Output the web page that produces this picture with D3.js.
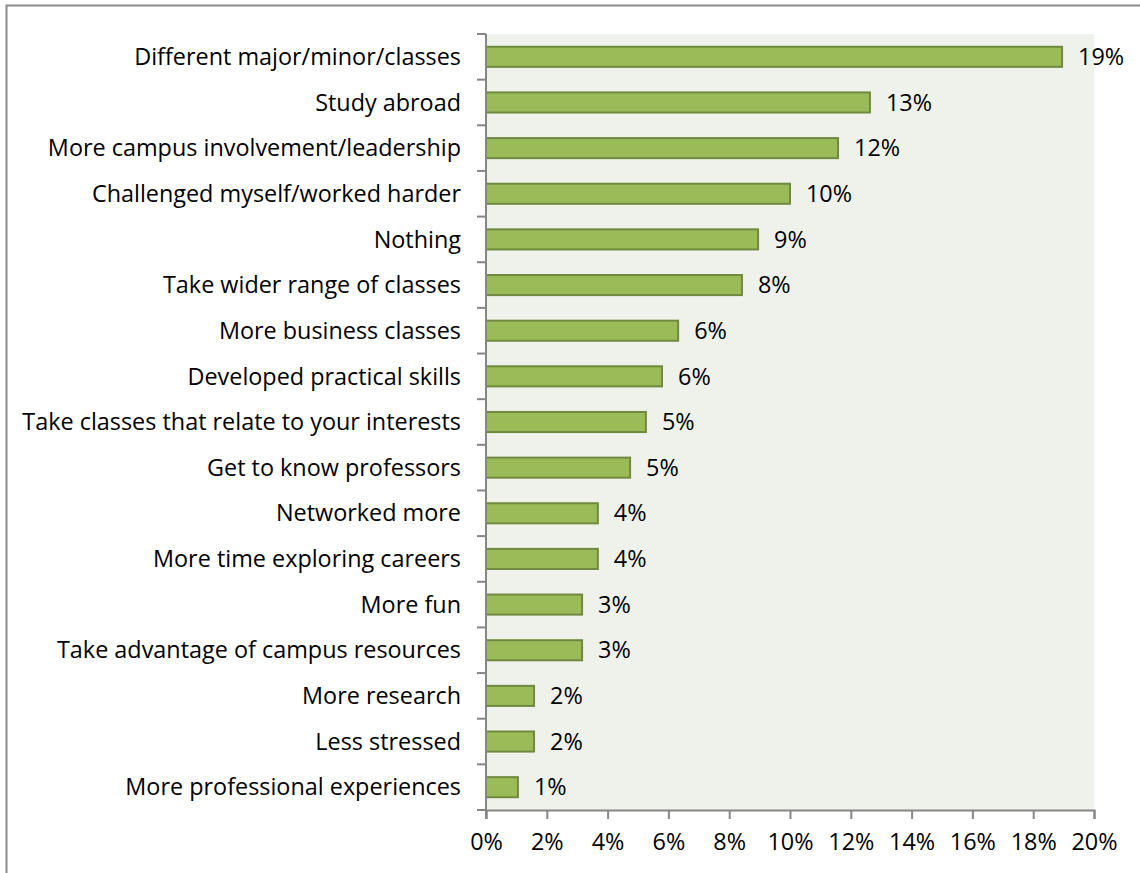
<!DOCTYPE html>
<html>
<head>
<meta charset="utf-8" />
<script src="https://d3js.org/d3.v7.min.js"></script>
<style>
  body { margin: 0; background: #fff; }
  text { font-family: "Open Sans", "Noto Sans", sans-serif; fill: #000; }
  .domain, .tick line { stroke: #868686; stroke-width: 2px; }
</style>
</head>
<body>
<script>
// categories, top to bottom
var categories = [
  "Different major/minor/classes",
  "Study abroad",
  "More campus involvement/leadership",
  "Challenged myself/worked harder",
  "Nothing",
  "Take wider range of classes",
  "More business classes",
  "Developed practical skills",
  "Take classes that relate to your interests",
  "Get to know professors",
  "Networked more",
  "More time exploring careers",
  "More fun",
  "Take advantage of campus resources",
  "More research",
  "Less stressed",
  "More professional experiences"
];
// shares (fraction)
var values = [0.1895, 0.1263, 0.1158, 0.1000, 0.0895, 0.0842, 0.0632, 0.0579,
              0.0526, 0.0474, 0.0368, 0.0368, 0.0316, 0.0316, 0.0158, 0.0158, 0.0105];
// labels as printed next to each bar
var valueLabels = ["19%", "13%", "12%", "10%", "9%", "8%", "6%", "6%",
                   "5%", "5%", "4%", "4%", "3%", "3%", "2%", "2%", "1%"];
var xTicks = [0, 0.02, 0.04, 0.06, 0.08, 0.10, 0.12, 0.14, 0.16, 0.18, 0.20];

var W = 1140, H = 873;
var plot = {left: 486, top: 34, right: 1094, bottom: 810};

var svg = d3.select("body").append("svg")
    .attr("width", W)
    .attr("height", H);

// chart border (only top and left visible in the crop)
svg.append("path")
    .attr("d", "M6.5," + H + "V5.5H" + W)
    .attr("fill", "none")
    .attr("stroke", "#8c8c8c")
    .attr("stroke-width", 2);

var x = d3.scaleLinear()
    .domain([0, 0.20])
    .range([plot.left, plot.right]);

var y = d3.scaleBand()
    .domain(categories)
    .range([plot.top, plot.bottom])
    .paddingInner(0.56)
    .paddingOuter(0.28);

// plot area background
svg.append("rect")
    .attr("x", plot.left)
    .attr("y", plot.top)
    .attr("width", plot.right - plot.left)
    .attr("height", plot.bottom - plot.top)
    .attr("fill", "#eff2ea");

// bars
svg.selectAll(".bar")
    .data(values)
  .enter().append("rect")
    .attr("class", "bar")
    .attr("x", x(0))
    .attr("y", function(d, i) { return y(categories[i]); })
    .attr("width", function(d) { return x(d) - x(0); })
    .attr("height", y.bandwidth())
    .attr("fill", "#9bbb59")
    .attr("stroke", "#71893f")
    .attr("stroke-width", 2);

// value labels
svg.selectAll(".val")
    .data(values)
  .enter().append("text")
    .attr("class", "val")
    .attr("x", function(d) { return x(d) + 16; })
    .attr("y", function(d, i) { return y(categories[i]) + y.bandwidth() / 2; })
    .attr("dy", "0.35em")
    .style("font-size", "20px")
    .text(function(d, i) { return valueLabels[i]; });

// x axis
var xAxis = svg.append("g")
    .attr("transform", "translate(0," + plot.bottom + ")")
    .call(d3.axisBottom(x)
      .tickValues(xTicks)
      .tickSizeInner(9)
      .tickSizeOuter(9)
      .tickPadding(14)
      .tickFormat(d3.format(".0%")));
xAxis.selectAll("text").style("font-size", "20px").attr("fill", "#000");

// y axis: ticks sit between categories, labels centred on bars
var bounds = d3.range(categories.length + 1).map(function(i) {
  return plot.top + i * (plot.bottom - plot.top) / categories.length;
});
var yAxis = svg.append("g");
yAxis.append("line")
    .attr("class", "domain")
    .attr("x1", plot.left).attr("x2", plot.left)
    .attr("y1", plot.top).attr("y2", plot.bottom + 9);
yAxis.selectAll(".ytick")
    .data(bounds)
  .enter().append("line")
    .attr("class", "domain")
    .attr("x1", plot.left - 9).attr("x2", plot.left)
    .attr("y1", function(d) { return d; })
    .attr("y2", function(d) { return d; });

var cats = svg.selectAll(".cat")
    .data(categories)
  .enter().append("text")
    .attr("class", "cat")
    .attr("x", plot.left - 25)
    .attr("y", function(d) { return y(d) + y.bandwidth() / 2; })
    .attr("dy", "0.35em")
    .attr("text-anchor", "end")
    .style("font-size", "20px")
    .text(function(d) { return d; });

// fit the font to the longest label width in the reference (~439px)
var widest = d3.max(cats.nodes(), function(n) { return n.getComputedTextLength(); });
var fs = 20 * 439 / widest;
cats.style("font-size", fs + "px");
svg.selectAll(".val").style("font-size", fs + "px");
xAxis.selectAll("text").style("font-size", fs + "px");
</script>
</body>
</html>
